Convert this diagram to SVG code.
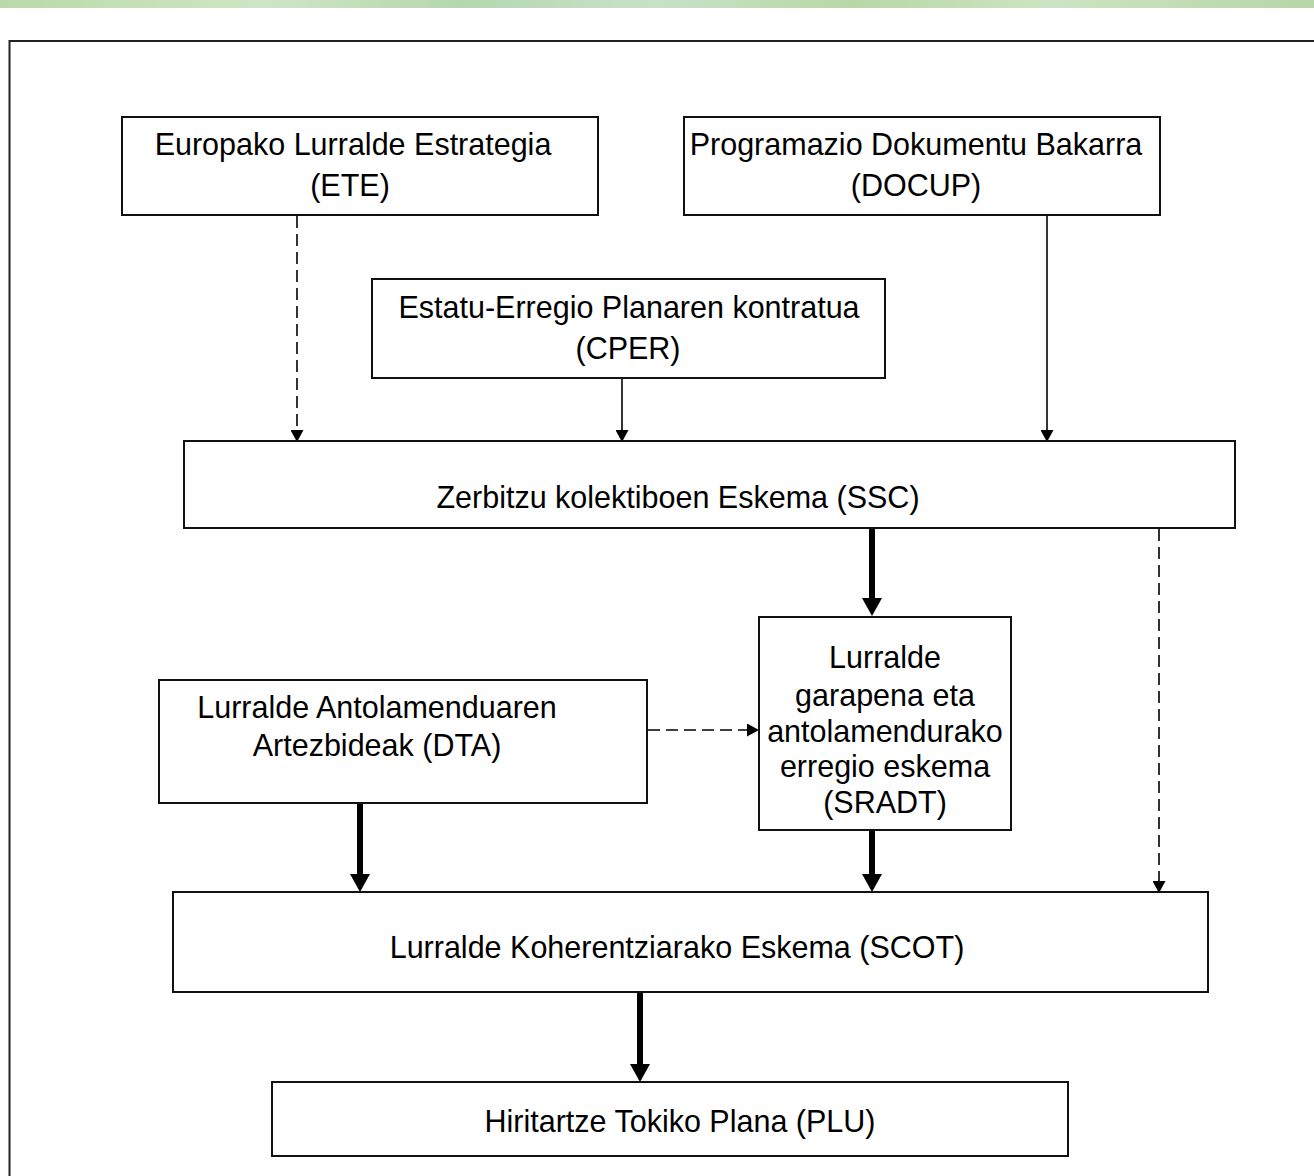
<svg xmlns="http://www.w3.org/2000/svg" width="1314" height="1176" viewBox="0 0 1314 1176">
<style>
.box{fill:#ffffff;stroke:#111;stroke-width:2}
.t{font-family:"Liberation Sans",Arial,sans-serif;font-size:30.5px;fill:#000;text-anchor:middle}
.thin{stroke:#000;stroke-width:1.6;fill:none}
.dash{stroke:#000;stroke-width:1.6;fill:none;stroke-dasharray:12 6}
.thick{stroke:#000;stroke-width:6;fill:none}
</style>
<defs>
<linearGradient id="g" x1="0" y1="0" x2="1" y2="0">
<stop offset="0" stop-color="#b9d9a9"/>
<stop offset="0.2" stop-color="#cfe6c6"/>
<stop offset="0.35" stop-color="#b5d6b0"/>
<stop offset="0.5" stop-color="#c8e2c8"/>
<stop offset="0.65" stop-color="#b8d7a6"/>
<stop offset="0.8" stop-color="#cde4c4"/>
<stop offset="1" stop-color="#b6d5a8"/>
</linearGradient>
<marker id="ah" markerUnits="userSpaceOnUse" markerWidth="13" markerHeight="13" refX="0" refY="6.5" orient="auto" viewBox="0 0 13 13">
<path d="M0,0 L12,6.5 L0,13 z" fill="#000"/>
</marker>
<marker id="ahb" markerUnits="userSpaceOnUse" markerWidth="19" markerHeight="20" refX="0" refY="10" orient="auto" viewBox="0 0 19 20">
<path d="M0,0 L18,10 L0,20 z" fill="#000"/>
</marker>
</defs>
<rect x="0" y="0" width="1314" height="1176" fill="#ffffff"/>
<rect x="0" y="0" width="1314" height="8" fill="url(#g)"/>
<rect x="9.5" y="41" width="1400" height="1200" fill="none" stroke="#222" stroke-width="2"/>

<g id="connectors">
<line class="dash" x1="297" y1="216" x2="297" y2="430" marker-end="url(#ah)"/>
<line class="thin" x1="622" y1="379" x2="622" y2="430" marker-end="url(#ah)"/>
<line class="thin" x1="1047" y1="216" x2="1047" y2="430" marker-end="url(#ah)"/>
<line class="thick" x1="872" y1="529" x2="872" y2="598" marker-end="url(#ahb)"/>
<line class="dash" x1="648" y1="730" x2="747" y2="730" marker-end="url(#ah)"/>
<line class="dash" x1="1159" y1="529" x2="1159" y2="881" marker-end="url(#ah)"/>
<line class="thick" x1="360" y1="804" x2="360" y2="874" marker-end="url(#ahb)"/>
<line class="thick" x1="872" y1="831" x2="872" y2="874" marker-end="url(#ahb)"/>
<line class="thick" x1="640" y1="993" x2="640" y2="1064" marker-end="url(#ahb)"/>
</g>

<g id="ETE">
<rect class="box" x="122" y="117" width="476" height="98"/>
<text class="t" x="353" y="155">Europako Lurralde Estrategia</text>
<text class="t" x="350" y="196">(ETE)</text>
</g>
<g id="DOCUP">
<rect class="box" x="684" y="117" width="476" height="98"/>
<text class="t" x="916" y="155">Programazio Dokumentu Bakarra</text>
<text class="t" x="916" y="196">(DOCUP)</text>
</g>
<g id="CPER">
<rect class="box" x="372" y="279" width="513" height="99"/>
<text class="t" x="629" y="318">Estatu-Erregio Planaren kontratua</text>
<text class="t" x="628" y="359">(CPER)</text>
</g>
<g id="SSC">
<rect class="box" x="184" y="441" width="1051" height="87"/>
<text class="t" x="678" y="508">Zerbitzu kolektiboen Eskema (SSC)</text>
</g>
<g id="SRADT">
<rect class="box" x="759" y="617" width="252" height="213"/>
<text class="t" x="885" y="668">Lurralde</text>
<text class="t" x="885" y="706">garapena eta</text>
<text class="t" x="885" y="742">antolamendurako</text>
<text class="t" x="885" y="777">erregio eskema</text>
<text class="t" x="885" y="813">(SRADT)</text>
</g>
<g id="DTA">
<rect class="box" x="159" y="680" width="488" height="123"/>
<text class="t" x="377" y="718">Lurralde Antolamenduaren</text>
<text class="t" x="377" y="756">Artezbideak (DTA)</text>
</g>
<g id="SCOT">
<rect class="box" x="173" y="892" width="1035" height="100"/>
<text class="t" x="677" y="958">Lurralde Koherentziarako Eskema (SCOT)</text>
</g>
<g id="PLU">
<rect class="box" x="272" y="1082" width="796" height="74"/>
<text class="t" x="680" y="1132">Hiritartze Tokiko Plana (PLU)</text>
</g>
</svg>
